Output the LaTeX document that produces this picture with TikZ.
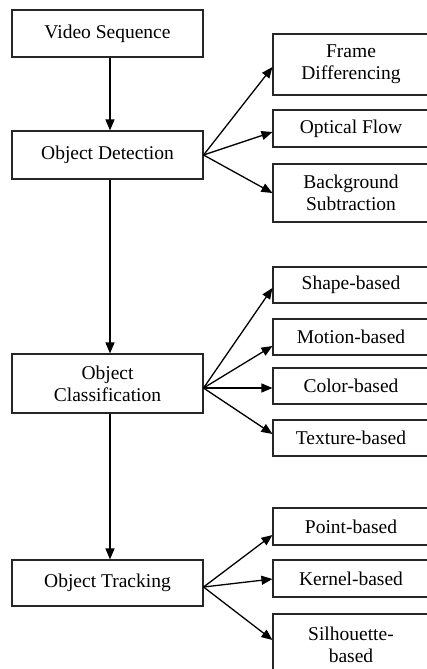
\documentclass[tikz,border=0pt]{standalone}
\usepackage{fontspec}
\setmainfont{Liberation Serif}
\usetikzlibrary{arrows.meta}
\begin{document}
\begin{tikzpicture}[x=1pt,y=-1pt,
  box/.style={draw=black!85, line width=1.1pt, rectangle, align=center, inner sep=0pt,
    font=\fontsize{19.5}{21.7}\selectfont},
  lbox/.style={box, minimum width=191pt},
  rbox/.style={box, minimum width=156pt},
  arr/.style={line width=1.3pt, -{Triangle[length=11pt,width=9pt]}}]
\useasboundingbox (0,0) rectangle (427,669);
\clip (0,0) rectangle (427,669);
% left column
\node[lbox, minimum height=47pt] (vs) at (107.5,33.5) {Video Sequence};
\node[lbox, minimum height=48pt] (od) at (107.5,155) {Object Detection};
\node[lbox, minimum height=59pt] (oc) at (107.5,383.5) {Object\\Classification};
\node[lbox, minimum height=46pt] (ot) at (107.5,583) {Object Tracking};
% right column
\node[rbox, minimum height=61pt] (fd) at (351,64.5) {Frame\\Differencing};
\node[rbox, minimum height=37pt] (of) at (351,128.5) {Optical Flow};
\node[rbox, minimum height=58pt] (bs) at (351,193) {Background\\Subtraction};
\node[rbox, minimum height=36pt] (sb) at (351,285) {Shape-based};
\node[rbox, minimum height=36pt] (mb) at (351,337) {Motion-based};
\node[rbox, minimum height=36pt] (cb) at (351,386) {Color-based};
\node[rbox, minimum height=36pt] (tb) at (351,438) {Texture-based};
\node[rbox, minimum height=37pt] (pb) at (351,526.5) {Point-based};
\node[rbox, minimum height=37pt] (kb) at (351,578.5) {Kernel-based};
\node[rbox, minimum height=61pt] (sil) at (351,644.5) {Silhouette-\\based};
% vertical arrows
\draw[arr] ([xshift=2.5pt]vs.south) -- ([xshift=2.5pt]od.north);
\draw[arr] ([xshift=2.5pt]od.south) -- ([xshift=2.5pt]oc.north);
\draw[arr] ([xshift=2.5pt]oc.south) -- ([xshift=2.5pt]ot.north);
% detection branches
\draw[arr] (od.east) -- ([yshift=-2.5pt]fd.west);
\draw[arr] (od.east) -- ([yshift=-3.5pt]of.west);
\draw[arr] (od.east) -- (bs.west);
% classification branches
\draw[arr] ([yshift=-4.5pt]oc.east) -- ([yshift=-3pt]sb.west);
\draw[arr] ([yshift=-4.5pt]oc.east) -- ([yshift=-9pt]mb.west);
\draw[arr] ([yshift=-4.5pt]oc.east) -- ([yshift=-2pt]cb.west);
\draw[arr] ([yshift=-4.5pt]oc.east) -- ([yshift=4pt]tb.west);
% tracking branches
\draw[arr] ([yshift=-4pt]ot.east) -- ([yshift=-8.5pt]pb.west);
\draw[arr] ([yshift=-4pt]ot.east) -- ([yshift=-0.5pt]kb.west);
\draw[arr] ([yshift=-4pt]ot.east) -- ([yshift=4.5pt]sil.west);
\end{tikzpicture}
\end{document}
